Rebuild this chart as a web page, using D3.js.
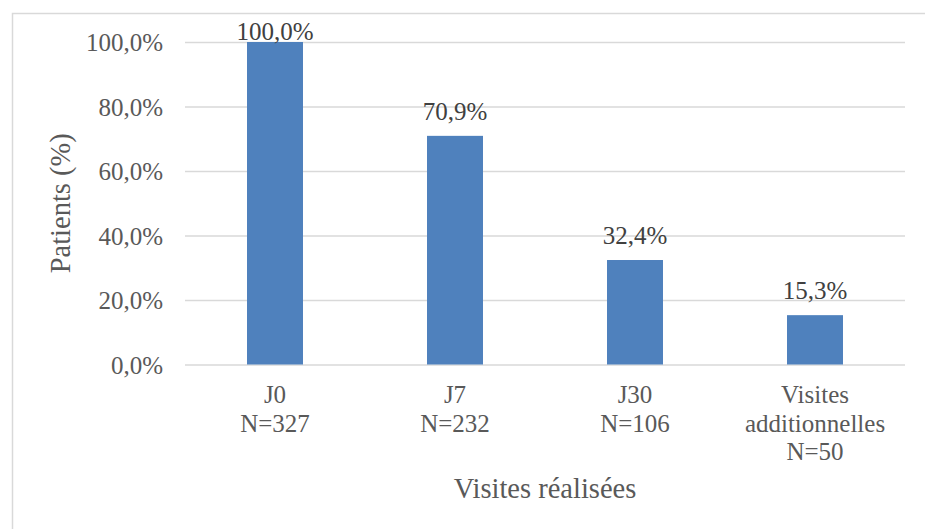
<!DOCTYPE html>
<html>
<head>
<meta charset="utf-8">
<script src="https://cdn.jsdelivr.net/npm/d3@7"></script>
<style>
  html, body { margin: 0; padding: 0; background: #fff; }
  svg { display: block; }
  text { font-family: "Liberation Serif", "DejaVu Serif", serif; }
</style>
</head>
<body>
<svg id="chart" width="925" height="529"></svg>
<script>
// Visits completed, share of patients per visit
const categories = [
  ["J0", "N=327"],
  ["J7", "N=232"],
  ["J30", "N=106"],
  ["Visites", "additionnelles", "N=50"]
];
const values = [100.0, 70.9, 32.4, 15.3];
const yTicks = [0, 20, 40, 60, 80, 100];
const yTitle = "Patients (%)";
const xTitle = "Visites réalisées";

const fmt = v => v.toFixed(1).replace(".", ",") + "%";

const svg = d3.select("#chart");
const W = 925, H = 529;
const plot = { left: 185, right: 905, top: 42, bottom: 364.5 };

// chart frame
svg.append("rect")
  .attr("x", 12.5).attr("y", 13.5)
  .attr("width", W + 10).attr("height", H + 10)
  .attr("fill", "#fff")
  .attr("stroke", "#d9d9d9").attr("stroke-width", 1.5);

const x = d3.scaleBand()
  .domain(d3.range(categories.length))
  .range([plot.left, plot.right])
  .paddingInner(0.689)
  .paddingOuter(0.3445);

const y = d3.scaleLinear()
  .domain([0, 100])
  .range([plot.bottom, plot.top]);

// gridlines + tick labels
const yAxis = d3.axisLeft(y)
  .tickValues(yTicks)
  .tickSize(-(plot.right - plot.left))
  .tickPadding(22)
  .tickFormat(fmt);

const gy = svg.append("g")
  .attr("transform", `translate(${plot.left},0)`)
  .call(yAxis);
gy.select(".domain").remove();
gy.selectAll(".tick line").attr("stroke", "#d9d9d9").attr("stroke-width", 1.5);
gy.selectAll(".tick text")
  .attr("fill", "#595959")
  .attr("font-size", 25)
  .attr("font-family", "Liberation Serif, DejaVu Serif, serif")
  .attr("dy", "0.34em");

// bars
svg.append("g").selectAll("rect")
  .data(values)
  .join("rect")
  .attr("x", (d, i) => x(i))
  .attr("y", d => y(d))
  .attr("width", x.bandwidth())
  .attr("height", d => y(0) - y(d))
  .attr("fill", "#4f81bd");

// value labels above the bars
svg.append("g").selectAll("text")
  .data(values)
  .join("text")
  .attr("x", (d, i) => x(i) + x.bandwidth() / 2)
  .attr("y", d => Math.max(y(d) - 16, plot.top - 2))
  .attr("text-anchor", "middle")
  .attr("fill", "#404040")
  .attr("font-size", 25)
  .text(fmt);

// category labels (multi-line)
const gx = svg.append("g");
categories.forEach((lines, i) => {
  const t = gx.append("text")
    .attr("text-anchor", "middle")
    .attr("fill", "#595959")
    .attr("font-size", 25);
  lines.forEach((line, k) => {
    t.append("tspan")
      .attr("x", x(i) + x.bandwidth() / 2)
      .attr("y", 403 + k * 28.5)
      .text(line);
  });
});

// axis titles
svg.append("text")
  .attr("x", (plot.left + plot.right) / 2)
  .attr("y", 498)
  .attr("text-anchor", "middle")
  .attr("fill", "#595959")
  .attr("font-size", 28.5)
  .text(xTitle);

svg.append("text")
  .attr("transform", `translate(70,${(plot.top + plot.bottom) / 2}) rotate(-90)`)
  .attr("text-anchor", "middle")
  .attr("fill", "#595959")
  .attr("font-size", 28.5)
  .text(yTitle);
</script>
</body>
</html>
